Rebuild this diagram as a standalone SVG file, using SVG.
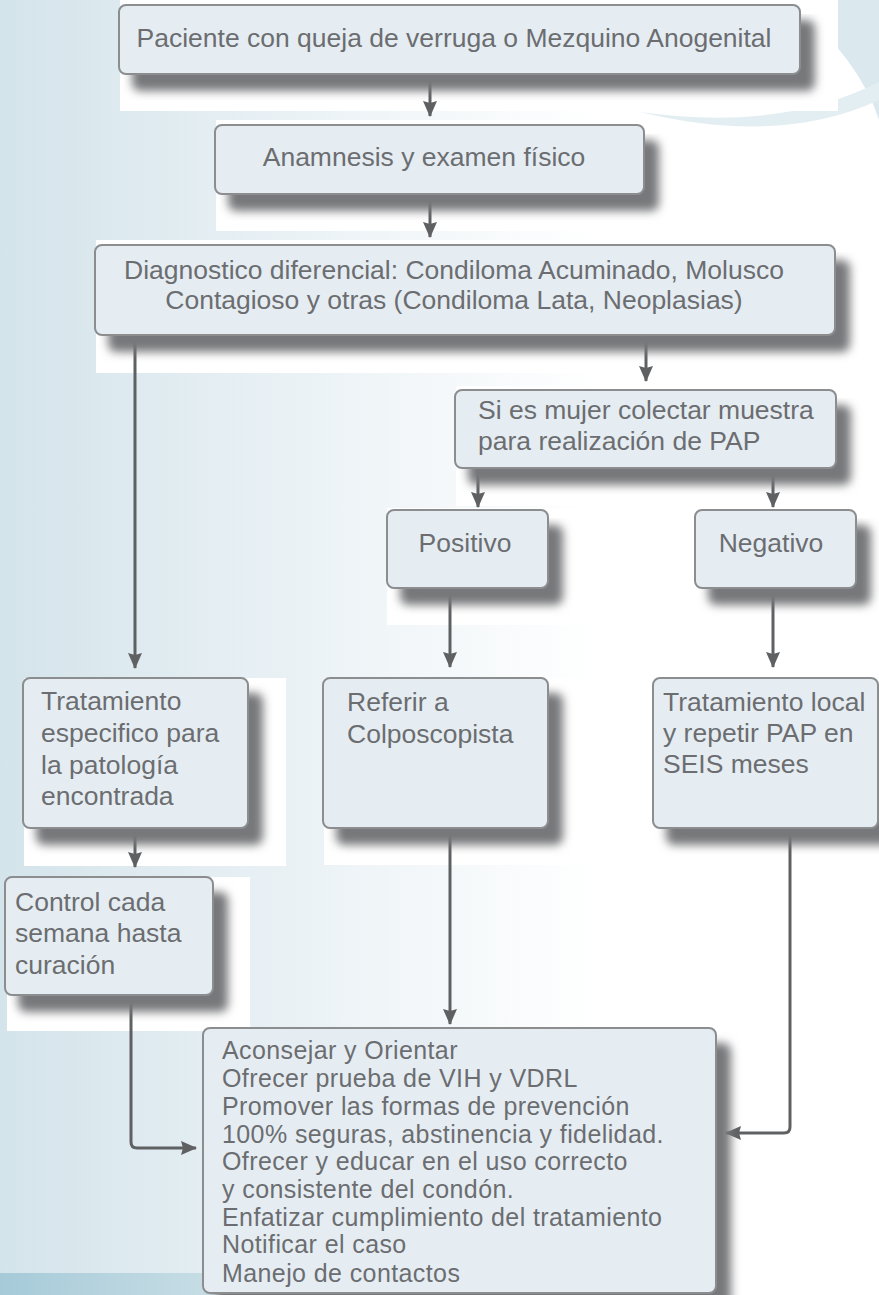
<svg xmlns="http://www.w3.org/2000/svg" width="879" height="1295" viewBox="0 0 879 1295">
  <defs>
    <linearGradient id="bg" x1="0" y1="0" x2="879" y2="0" gradientUnits="userSpaceOnUse">
      <stop offset="0" stop-color="#d4e4eb"/>
      <stop offset="0.4" stop-color="#eef4f7"/>
      <stop offset="0.68" stop-color="#ffffff"/>
    </linearGradient>
    <linearGradient id="strip" x1="0" y1="0" x2="879" y2="0" gradientUnits="userSpaceOnUse">
      <stop offset="0" stop-color="#a6cad8"/>
      <stop offset="0.3" stop-color="#cfe2e9"/>
      <stop offset="0.85" stop-color="#ffffff"/>
    </linearGradient>
    <filter id="shadow" x="-10%" y="-10%" width="130%" height="160%">
      <feGaussianBlur in="SourceAlpha" stdDeviation="5"/>
      <feOffset dx="14" dy="16" result="b"/>
      <feFlood flood-color="#77787b" flood-opacity="1"/>
      <feComposite in2="b" operator="in" result="s"/>
      <feMerge>
        <feMergeNode in="s"/>
        <feMergeNode in="SourceGraphic"/>
      </feMerge>
    </filter>
    <marker id="arrow" viewBox="0 0 16 14" refX="15" refY="7" markerWidth="16" markerHeight="14" markerUnits="userSpaceOnUse" orient="auto">
      <path d="M0,0 L16,7 L0,14 L2,7 z" fill="#5f6062"/>
    </marker>
  </defs>
  <style>
    .box { fill: #e5edf3; stroke: #8b8d8f; stroke-width: 2; filter: url(#shadow); }
    .patch { fill: #ffffff; }
    .t { font-family: "Liberation Sans", Arial, sans-serif; font-size: 26.5px; fill: #6c6d70; }
    .c { text-anchor: middle; }
    .list { font-size: 25px; letter-spacing: 0.4px; }
    .link { fill: none; stroke: #5f6062; stroke-width: 3; marker-end: url(#arrow); }
  </style>

  <!-- background -->
  <rect x="0" y="0" width="879" height="1295" fill="url(#bg)"/>
  <rect x="0" y="1273" width="879" height="22" fill="url(#strip)"/>
  <!-- decorative swoosh, top right -->
  <path d="M790,0 L879,0 L879,120 Q860,60 790,0 z" fill="#dbe9ef"/>
  <path d="M640,112 Q780,132 879,82 L879,100 Q780,146 640,112 z" fill="#e3eef2"/>

  <!-- white backing panels -->
  <rect class="patch" x="120" y="0" width="718" height="111"/>
  <rect class="patch" x="216" y="120" width="456" height="111"/>
  <rect class="patch" x="96" y="240" width="783" height="133"/>
  <rect class="patch" x="456" y="386" width="423" height="120"/>
  <rect class="patch" x="387" y="508" width="200" height="117"/>
  <rect class="patch" x="695" y="508" width="184" height="117"/>
  <rect class="patch" x="24" y="678" width="262" height="188"/>
  <rect class="patch" x="324" y="678" width="262" height="187"/>
  <rect class="patch" x="654" y="678" width="225" height="187"/>
  <rect class="patch" x="7" y="877" width="243" height="154"/>

  <!-- connectors -->
  <g id="connectors">
    <path class="link" d="M430,76 L430,116"/>
    <path class="link" d="M430,196 L430,237"/>
    <path class="link" d="M135,337 L135,668"/>
    <path class="link" d="M646,337 L646,381"/>
    <path class="link" d="M478,470 L478,507"/>
    <path class="link" d="M773,470 L773,507"/>
    <path class="link" d="M450,590 L450,667"/>
    <path class="link" d="M773,590 L773,667"/>
    <path class="link" d="M135,830 L135,867"/>
    <path class="link" d="M450,830 L450,1024"/>
    <path class="link" d="M131,997 L131,1142 Q131,1148 137,1148 L196,1148"/>
    <path class="link" d="M790,830 L790,1127 Q790,1133 784,1133 L726,1133"/>
  </g>

  <g id="n-paciente">
    <rect class="box" x="119" y="5" width="681" height="69" rx="7"/>
    <text class="t c" x="454" y="47">Paciente con queja de verruga o Mezquino Anogenital</text>
  </g>
  <g id="n-anamnesis">
    <rect class="box" x="215" y="125" width="429" height="69" rx="7"/>
    <text class="t c" x="424" y="166">Anamnesis y examen físico</text>
  </g>
  <g id="n-diagnostico">
    <rect class="box" x="95" y="245" width="740" height="90" rx="7"/>
    <text class="t c" x="454" y="279">Diagnostico diferencial: Condiloma Acuminado, Molusco</text>
    <text class="t c" x="454" y="309">Contagioso y otras (Condiloma Lata, Neoplasias)</text>
  </g>
  <g id="n-pap">
    <rect class="box" x="455" y="390" width="381" height="78" rx="7"/>
    <text class="t" x="478" y="419">Si es mujer colectar muestra</text>
    <text class="t" x="478" y="450">para realización de PAP</text>
  </g>
  <g id="n-positivo">
    <rect class="box" x="387" y="510" width="161" height="78" rx="7"/>
    <text class="t c" x="465" y="552">Positivo</text>
  </g>
  <g id="n-negativo">
    <rect class="box" x="695" y="510" width="161" height="78" rx="7"/>
    <text class="t c" x="771" y="552">Negativo</text>
  </g>
  <g id="n-tratamiento">
    <rect class="box" x="23" y="678" width="225" height="150" rx="7"/>
    <text class="t" x="41" y="710">Tratamiento</text>
    <text class="t" x="41" y="742">especifico para</text>
    <text class="t" x="41" y="774">la patología</text>
    <text class="t" x="41" y="805">encontrada</text>
  </g>
  <g id="n-referir">
    <rect class="box" x="323" y="678" width="225" height="150" rx="7"/>
    <text class="t" x="347" y="711">Referir a</text>
    <text class="t" x="347" y="743">Colposcopista</text>
  </g>
  <g id="n-tratamiento-local">
    <rect class="box" x="653" y="678" width="225" height="150" rx="7"/>
    <text class="t" x="663" y="711">Tratamiento local</text>
    <text class="t" x="663" y="742">y repetir PAP  en</text>
    <text class="t" x="663" y="773">SEIS meses</text>
  </g>
  <g id="n-control">
    <rect class="box" x="5" y="877" width="208" height="118" rx="7"/>
    <text class="t" x="15" y="911">Control cada</text>
    <text class="t" x="15" y="942">semana hasta</text>
    <text class="t" x="15" y="974">curación</text>
  </g>
  <g id="n-consejeria">
    <rect class="box" x="203" y="1028" width="513" height="265" rx="7"/>
    <text class="t list" x="222" y="1059">Aconsejar y Orientar</text>
    <text class="t list" x="222" y="1087">Ofrecer prueba de VIH y VDRL</text>
    <text class="t list" x="222" y="1115">Promover las formas de prevención</text>
    <text class="t list" x="222" y="1143">100% seguras, abstinencia y fidelidad.</text>
    <text class="t list" x="222" y="1170">Ofrecer y educar en el uso correcto</text>
    <text class="t list" x="222" y="1198">y consistente del condón.</text>
    <text class="t list" x="222" y="1226">Enfatizar cumplimiento del tratamiento</text>
    <text class="t list" x="222" y="1253">Notificar el caso</text>
    <text class="t list" x="222" y="1282">Manejo de contactos</text>
  </g>
</svg>
